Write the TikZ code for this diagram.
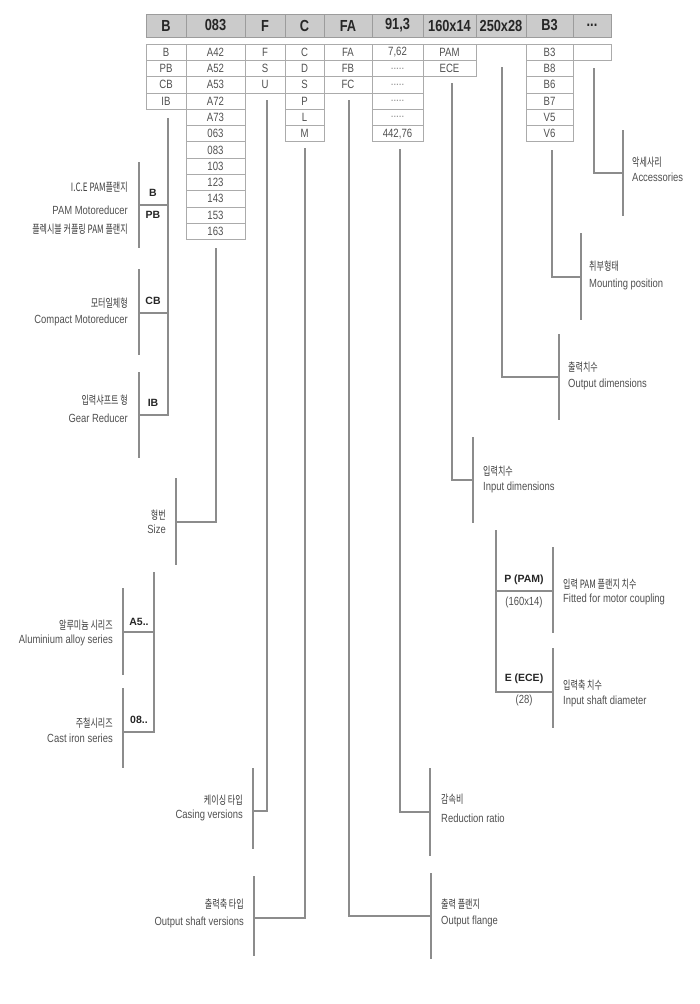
\documentclass[tikz,border=0pt]{standalone}
\usepackage{fontspec}
\setmainfont{Liberation Sans}[FakeStretch=0.8]
\newfontfamily\tagfont{Liberation Sans}
\newfontfamily\kofont{Noto Sans CJK KR}[FakeStretch=0.7]

\definecolor{LineGray}{HTML}{8C8C8C}
\definecolor{CellGray}{HTML}{ABABAB}
\definecolor{HeadFill}{HTML}{CBCBCB}
\definecolor{HeadLine}{HTML}{9C9C9C}
\definecolor{TextGray}{HTML}{505050}
\definecolor{KoText}{HTML}{3A3A3A}
\definecolor{HeadText}{HTML}{262626}

\newcommand\headfont{\fontsize{16}{18}\selectfont\bfseries}
\newcommand\cellfont{\fontsize{12}{14}\selectfont}
\newcommand\labfont{\fontsize{11.8}{13}\selectfont}
\newcommand\kolab{\kofont\fontsize{11.5}{13}\selectfont\color{KoText}}
\newcommand\tagfnt{\tagfont\fontsize{10.5}{12}\selectfont\bfseries}

\tikzstyle{HeadCell} = [draw=HeadLine, fill=HeadFill, line width=0.8, minimum height=23, inner sep=0, font=\headfont, text=HeadText]
\tikzstyle{OptCell} = [draw=CellGray, line width=0.8, minimum height=16.3, inner sep=0, font=\cellfont, text=TextGray]
\tikzstyle{ColB} = [OptCell, minimum width=40]
\tikzstyle{ColSize} = [OptCell, minimum width=59]
\tikzstyle{ColF} = [OptCell, minimum width=40]
\tikzstyle{ColC} = [OptCell, minimum width=39]
\tikzstyle{ColFA} = [OptCell, minimum width=48]
\tikzstyle{ColRatio} = [OptCell, minimum width=51]
\tikzstyle{ColIn} = [OptCell, minimum width=53]
\tikzstyle{ColPos} = [OptCell, minimum width=47]
\tikzstyle{ColAcc} = [OptCell, minimum width=38]
\tikzstyle{Link} = [draw=LineGray, line width=1.2]
\tikzstyle{LabR} = [anchor=east, inner sep=0, text=TextGray, font=\labfont]
\tikzstyle{LabL} = [anchor=west, inner sep=0, text=TextGray, font=\labfont]
\tikzstyle{KoR} = [LabR, text=KoText, font=\kolab]
\tikzstyle{KoL} = [LabL, text=KoText, font=\kolab]
\tikzstyle{Tag} = [inner sep=0, text=HeadText, font=\tagfnt]

\begin{document}
\begin{tikzpicture}[x=1pt,y=-1pt]
\useasboundingbox (0,0) rectangle (700,1004);

% header row
\node[HeadCell, minimum width=40] (hB) at (166,25.5) {B};
\node[HeadCell, minimum width=59] (hSize) at (215.5,25.5) {083};
\node[HeadCell, minimum width=40] (hF) at (265,25.5) {F};
\node[HeadCell, minimum width=39] (hC) at (304.5,25.5) {C};
\node[HeadCell, minimum width=48] (hFA) at (348,25.5) {FA};
\node[HeadCell, minimum width=51] (hRatio) at (397.5,25.5) {91,3};
\node[HeadCell, minimum width=53] (hIn) at (449.5,25.5) {160x14};
\node[HeadCell, minimum width=50] (hOut) at (501,25.5) {250x28};
\node[HeadCell, minimum width=47] (hPos) at (549.5,25.5) {B3};
\node[HeadCell, minimum width=38] (hAcc) at (592,25.5) {...};

% option table
\node[ColB] (b1) at (166,52.15) {B};
\node[ColB] (b2) at (166,68.45) {PB};
\node[ColB] (b3) at (166,84.75) {CB};
\node[ColB] (b4) at (166,101.05) {IB};

\node[ColSize] (s1) at (215.5,52.15) {A42};
\node[ColSize] (s2) at (215.5,68.45) {A52};
\node[ColSize] (s3) at (215.5,84.75) {A53};
\node[ColSize] (s4) at (215.5,101.05) {A72};
\node[ColSize] (s5) at (215.5,117.35) {A73};
\node[ColSize] (s6) at (215.5,133.65) {063};
\node[ColSize] (s7) at (215.5,149.95) {083};
\node[ColSize] (s8) at (215.5,166.25) {103};
\node[ColSize] (s9) at (215.5,182.55) {123};
\node[ColSize] (s10) at (215.5,198.85) {143};
\node[ColSize] (s11) at (215.5,215.15) {153};
\node[ColSize] (s12) at (215.5,231.45) {163};

\node[ColF] (f1) at (265,52.15) {F};
\node[ColF] (f2) at (265,68.45) {S};
\node[ColF] (f3) at (265,84.75) {U};

\node[ColC] (c1) at (304.5,52.15) {C};
\node[ColC] (c2) at (304.5,68.45) {D};
\node[ColC] (c3) at (304.5,84.75) {S};
\node[ColC] (c4) at (304.5,101.05) {P};
\node[ColC] (c5) at (304.5,117.35) {L};
\node[ColC] (c6) at (304.5,133.65) {M};

\node[ColFA] (fa1) at (348,52.15) {FA};
\node[ColFA] (fa2) at (348,68.45) {FB};
\node[ColFA] (fa3) at (348,84.75) {FC};

\node[ColRatio] (r1) at (397.5,52.15) {7,62};
\node[ColRatio] (r2) at (397.5,68.45) {\color{gray}.....};
\node[ColRatio] (r3) at (397.5,84.75) {\color{gray}.....};
\node[ColRatio] (r4) at (397.5,101.05) {\color{gray}.....};
\node[ColRatio] (r5) at (397.5,117.35) {\color{gray}.....};
\node[ColRatio] (r6) at (397.5,133.65) {442,76};

\node[ColIn] (i1) at (449.5,52.15) {PAM};
\node[ColIn] (i2) at (449.5,68.45) {ECE};

\draw[draw=CellGray, line width=0.8] (476,44) -- (526,44);

\node[ColPos] (p1) at (549.5,52.15) {B3};
\node[ColPos] (p2) at (549.5,68.45) {B8};
\node[ColPos] (p3) at (549.5,84.75) {B6};
\node[ColPos] (p4) at (549.5,101.05) {B7};
\node[ColPos] (p5) at (549.5,117.35) {V5};
\node[ColPos] (p6) at (549.5,133.65) {V6};

\node[ColAcc] (a1) at (592,52.15) {};

% model type
\draw[Link] (168,118) -- (168,415) -- (139,415);
\draw[Link] (139,205) -- (168,205);
\draw[Link] (139,313) -- (168,313);
\draw[Link] (139,162) -- (139,248);
\draw[Link] (139,269) -- (139,355);
\draw[Link] (139,372) -- (139,458);
\node[Tag] (tB) at (153,193) {B};
\node[Tag] (tPB) at (153,215) {PB};
\node[Tag] (tCB) at (153,301) {CB};
\node[Tag] (tIB) at (153,403) {IB};
\node[KoR] (lice) at (128,187) {I.C.E PAM플랜지};
\node[LabR] (lpam) at (128,210) {PAM Motoreducer};
\node[KoR] (lflex) at (128,229) {플렉시블 커플링 PAM 플랜지};
\node[KoR] (lcb) at (128,303) {모터일체형};
\node[LabR] (lcben) at (128,320) {Compact Motoreducer};
\node[KoR] (lib) at (128,400) {입력샤프트 형};
\node[LabR] (liben) at (128,418) {Gear Reducer};

% size
\draw[Link] (216,248) -- (216,522) -- (176,522);
\draw[Link] (176,478) -- (176,565);
\node[KoR] (lsize) at (166,515) {형번};
\node[LabR] (lsizeen) at (166,529) {Size};
\draw[Link] (154,572) -- (154,732) -- (123,732);
\draw[Link] (123,632) -- (154,632);
\draw[Link] (123,588) -- (123,675);
\draw[Link] (123,688) -- (123,768);
\node[Tag] (tA5) at (139,622) {A5..};
\node[Tag] (t08) at (139,720) {08..};
\node[KoR] (lal) at (113,625) {알루미늄 시리즈};
\node[LabR] (lalen) at (113,640) {Aluminium alloy series};
\node[KoR] (lci) at (113,723) {주철시리즈};
\node[LabR] (lcien) at (113,738) {Cast iron series};

% casing
\draw[Link] (267,100) -- (267,811) -- (253,811);
\draw[Link] (253,768) -- (253,849);
\node[KoR] (lcas) at (243,800) {케이싱 타입};
\node[LabR] (lcasen) at (243,815) {Casing versions};

% output shaft
\draw[Link] (305,148) -- (305,918) -- (254,918);
\draw[Link] (254,876) -- (254,956);
\node[KoR] (lsh) at (244,904) {출력축 타입};
\node[LabR] (lshen) at (244,922) {Output shaft versions};

% output flange
\draw[Link] (349,100) -- (349,916) -- (431,916);
\draw[Link] (431,873) -- (431,959);
\node[KoL] (lfl) at (441,904) {출력 플랜지};
\node[LabL] (lflen) at (441,921) {Output flange};

% ratio
\draw[Link] (400,149) -- (400,812) -- (430,812);
\draw[Link] (430,768) -- (430,856);
\node[KoL] (lrat) at (441,799) {감속비};
\node[LabL] (lraten) at (441,818) {Reduction ratio};

% input dimensions
\draw[Link] (452,83) -- (452,480) -- (473,480);
\draw[Link] (473,437) -- (473,523);
\node[KoL] (lin) at (483,471) {입력치수};
\node[LabL] (linen) at (483,487) {Input dimensions};
\draw[Link] (496,530) -- (496,692) -- (553,692);
\draw[Link] (496,591) -- (553,591);
\draw[Link] (553,547) -- (553,633);
\draw[Link] (553,648) -- (553,728);
\node[Tag] (tPAM) at (524,580) {P (PAM)};
\node[Tag, font=\labfont, text=TextGray] (tPAMv) at (524,602) {(160x14)};
\node[Tag] (tECE) at (524,679) {E (ECE)};
\node[Tag, font=\labfont, text=TextGray] (tECEv) at (524,700) {(28)};
\node[KoL] (lpf) at (563,584) {입력 PAM 플랜지 치수};
\node[LabL] (lpfen) at (563,599) {Fitted for motor coupling};
\node[KoL] (lsd) at (563,685) {입력축 치수};
\node[LabL] (lsden) at (563,701) {Input shaft diameter};

% output dimensions
\draw[Link] (502,67) -- (502,377) -- (559,377);
\draw[Link] (559,334) -- (559,420);
\node[KoL] (lout) at (568,367) {출력치수};
\node[LabL] (louten) at (568,384) {Output dimensions};

% mounting position
\draw[Link] (552,150) -- (552,277) -- (581,277);
\draw[Link] (581,233) -- (581,320);
\node[KoL] (lmnt) at (589,266) {취부형태};
\node[LabL] (lmnten) at (589,284) {Mounting position};

% accessories
\draw[Link] (594,68) -- (594,173) -- (623,173);
\draw[Link] (623,130) -- (623,216);
\node[KoL] (lacc) at (632,162) {악세사리};
\node[LabL] (laccen) at (632,177) {Accessories};

\end{tikzpicture}
\end{document}
